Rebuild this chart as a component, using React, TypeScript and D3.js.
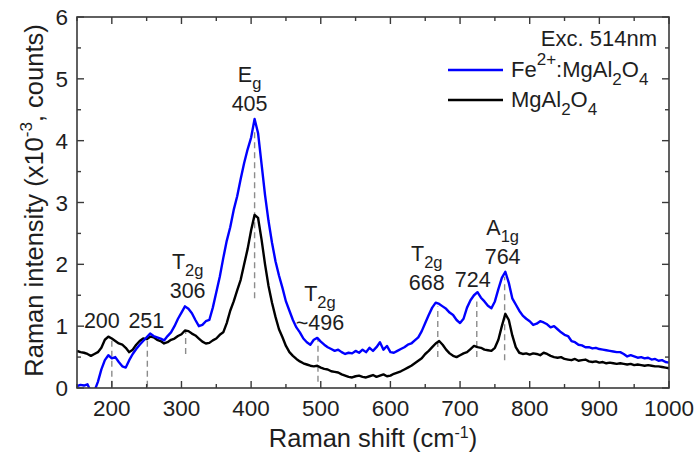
import React from "react";
import * as d3 from "d3";

// Raman shift sampling grid (cm^-1)
const SHIFT = [
  150, 155, 160, 165, 170, 175, 180, 185, 190, 195, 200, 205, 210, 215, 220, 225, 230, 235, 240, 245,
  250, 255, 260, 265, 270, 275, 280, 285, 290, 295, 300, 305, 310, 315, 320, 325, 330, 335, 340, 345,
  350, 355, 360, 365, 370, 375, 380, 385, 390, 395, 400, 405, 410, 415, 420, 425, 430, 435, 440, 445,
  450, 455, 460, 465, 470, 475, 480, 485, 490, 495, 500, 505, 510, 515, 520, 525, 530, 535, 540, 545,
  550, 555, 560, 565, 570, 575, 580, 585, 590, 595, 600, 605, 610, 615, 620, 625, 630, 635, 640, 645,
  650, 655, 660, 665, 670, 675, 680, 685, 690, 695, 700, 705, 710, 715, 720, 725, 730, 735, 740, 745,
  750, 755, 760, 765, 770, 775, 780, 785, 790, 795, 800, 805, 810, 815, 820, 825, 830, 835, 840, 845,
  850, 855, 860, 865, 870, 875, 880, 885, 890, 895, 900, 905, 910, 915, 920, 925, 930, 935, 940, 945,
  950, 955, 960, 965, 970, 975, 980, 985, 990, 995, 1000,
];

// Fe2+:MgAl2O4 intensity (x10^3 counts)
const FE_SPINEL = [
  0.03, 0.05, 0.04, 0.06, -0.06, -0.05, 0.10, 0.30, 0.45, 0.53, 0.48, 0.50, 0.42, 0.35, 0.33, 0.45, 0.55, 0.63, 0.70, 0.76,
  0.82, 0.88, 0.84, 0.82, 0.80, 0.77, 0.84, 0.90, 1.00, 1.12, 1.22, 1.32, 1.28, 1.21, 1.10, 1.00, 1.02, 1.08, 1.10, 1.30,
  1.55, 1.80, 2.10, 2.38, 2.60, 2.88, 3.10, 3.38, 3.64, 3.86, 4.05, 4.35, 4.12, 3.62, 3.12, 2.70, 2.35, 2.05, 1.82, 1.62,
  1.40, 1.25, 1.10, 0.98, 0.90, 0.80, 0.74, 0.70, 0.78, 0.81, 0.75, 0.70, 0.66, 0.63, 0.60, 0.62, 0.58, 0.55, 0.57, 0.56,
  0.60, 0.57, 0.62, 0.58, 0.65, 0.60, 0.66, 0.74, 0.62, 0.68, 0.58, 0.57, 0.60, 0.63, 0.66, 0.70, 0.72, 0.77, 0.82, 0.92,
  1.05, 1.18, 1.30, 1.38, 1.36, 1.32, 1.28, 1.22, 1.18, 1.10, 1.05, 1.12, 1.30, 1.42, 1.50, 1.55, 1.46, 1.40, 1.33, 1.29,
  1.40, 1.60, 1.78, 1.88, 1.70, 1.45, 1.35, 1.25, 1.17, 1.12, 1.08, 1.02, 1.04, 1.08, 1.06, 1.03, 0.98, 1.00, 0.95, 0.90,
  0.86, 0.84, 0.76, 0.74, 0.70, 0.69, 0.66, 0.66, 0.64, 0.65, 0.63, 0.62, 0.61, 0.60, 0.59, 0.58, 0.58, 0.55, 0.51, 0.53,
  0.51, 0.49, 0.50, 0.48, 0.49, 0.46, 0.47, 0.44, 0.45, 0.42, 0.41,
];

// MgAl2O4 intensity (x10^3 counts)
const SPINEL = [
  0.60, 0.58, 0.57, 0.55, 0.52, 0.55, 0.58, 0.65, 0.78, 0.83, 0.80, 0.76, 0.72, 0.70, 0.65, 0.58, 0.62, 0.70, 0.76, 0.80,
  0.79, 0.83, 0.82, 0.78, 0.76, 0.72, 0.74, 0.78, 0.80, 0.84, 0.87, 0.93, 0.92, 0.88, 0.85, 0.80, 0.75, 0.72, 0.73, 0.77,
  0.80, 0.86, 0.90, 1.05, 1.25, 1.40, 1.58, 1.75, 2.00, 2.25, 2.55, 2.80, 2.75, 2.40, 2.00, 1.65, 1.38, 1.15, 0.95, 0.82,
  0.68, 0.58, 0.52, 0.47, 0.43, 0.40, 0.38, 0.36, 0.35, 0.36, 0.33, 0.31, 0.30, 0.27, 0.26, 0.25, 0.22, 0.20, 0.18, 0.17,
  0.19, 0.20, 0.18, 0.17, 0.19, 0.21, 0.18, 0.20, 0.22, 0.19, 0.20, 0.23, 0.25, 0.27, 0.30, 0.33, 0.36, 0.40, 0.44, 0.48,
  0.55, 0.60, 0.66, 0.72, 0.76, 0.70, 0.62, 0.56, 0.52, 0.50, 0.53, 0.56, 0.58, 0.63, 0.68, 0.66, 0.65, 0.62, 0.61, 0.60,
  0.65, 0.78, 1.00, 1.20, 1.10, 0.85, 0.66, 0.57, 0.55, 0.56, 0.54, 0.56, 0.55, 0.53, 0.57, 0.55, 0.52, 0.50, 0.49, 0.50,
  0.47, 0.46, 0.45, 0.47, 0.44, 0.45, 0.46, 0.43, 0.42, 0.43, 0.41, 0.42, 0.40, 0.41, 0.40, 0.39, 0.40, 0.39, 0.38, 0.39,
  0.37, 0.38, 0.37, 0.36, 0.37, 0.36, 0.35, 0.35, 0.34, 0.33, 0.32,
];

// Assigned Raman modes
const PEAK_SHIFT = [200, 251, 306, 405, 496, 668, 724, 764];
const PEAK_TEXT = ["200", "251", "306", "405", "~496", "668", "724", "764"];
const PEAK_MODE = ["", "", "T", "E", "T", "T", "", "A"];
const PEAK_MODE_SUB = ["", "", "2g", "g", "2g", "2g", "", "1g"];
const PEAK_DASH_LO = [0.02, 0.02, 0.55, 1.45, 0.1, 0.5, 0.5, 0.45];
const PEAK_DASH_HI = [0.78, 0.83, 0.92, 4.2, 0.8, 1.32, 1.4, 1.8];

const X_TICKS = [200, 300, 400, 500, 600, 700, 800, 900, 1000];
const X_MINOR = [150, 250, 350, 450, 550, 650, 750, 850, 950];
const Y_TICKS = [0, 1, 2, 3, 4, 5, 6];
const Y_MINOR = [0.5, 1.5, 2.5, 3.5, 4.5, 5.5];

const W = 700;
const H = 456;
const M = { left: 77, right: 669, top: 17, bottom: 388 };

// Annotation placement relative to each mode's dashed marker (px)
const LABEL_DX = [-10, -1, 2, -5, 2, -11, -4, -2];
const LABEL_Y = [328, 328, 298, 111, 330, 290, 287, 264];

const FONT = "'Liberation Sans', Arial, Helvetica, sans-serif";
const FRAME = "#3a3a3a";
const TEXT = "#1e1e1e";

export default function App() {
  const x = d3.scaleLinear().domain([150, 1000]).range([M.left, M.right]);
  const y = d3.scaleLinear().domain([0, 6]).range([M.bottom, M.top]);

  const line = d3
    .line<number>()
    .x((_, i) => x(SHIFT[i]))
    .y((d) => y(d));

  const majorLen = 7;
  const minorLen = 4;

  return (
    <svg
      width={W}
      height={H}
      viewBox={`0 0 ${W} ${H}`}
      style={{ position: "absolute", left: 0, top: 0, background: "#fff" }}
      fontFamily={FONT}
    >
      <defs>
        <clipPath id="plot-area">
          <rect x={M.left} y={M.top} width={M.right - M.left} height={M.bottom - M.top} />
        </clipPath>
      </defs>

      {/* dashed mode markers */}
      {PEAK_SHIFT.map((p, i) => (
        <line
          key={`dash-${i}`}
          x1={x(p)}
          x2={x(p)}
          y1={y(PEAK_DASH_LO[i])}
          y2={y(PEAK_DASH_HI[i])}
          stroke="#8c8c8c"
          strokeWidth={1.4}
          strokeDasharray="6,4"
        />
      ))}

      {/* spectra */}
      <g clipPath="url(#plot-area)" fill="none" strokeLinejoin="round">
        <path d={line(SPINEL) ?? ""} stroke="#000" strokeWidth={2.4} />
        <path d={line(FE_SPINEL) ?? ""} stroke="#0000ff" strokeWidth={2.4} />
      </g>

      {/* frame */}
      <rect
        x={M.left}
        y={M.top}
        width={M.right - M.left}
        height={M.bottom - M.top}
        fill="none"
        stroke={FRAME}
        strokeWidth={1.6}
      />

      {/* x ticks, bottom and top, pointing inward */}
      {X_TICKS.map((t) => (
        <g key={`xt-${t}`} stroke={FRAME} strokeWidth={1.4}>
          <line x1={x(t)} x2={x(t)} y1={M.bottom} y2={M.bottom - majorLen} />
          <line x1={x(t)} x2={x(t)} y1={M.top} y2={M.top + majorLen} />
        </g>
      ))}
      {X_MINOR.map((t) => (
        <g key={`xm-${t}`} stroke={FRAME} strokeWidth={1.4}>
          <line x1={x(t)} x2={x(t)} y1={M.bottom} y2={M.bottom - minorLen} />
          <line x1={x(t)} x2={x(t)} y1={M.top} y2={M.top + minorLen} />
        </g>
      ))}
      {Y_TICKS.map((t) => (
        <g key={`yt-${t}`} stroke={FRAME} strokeWidth={1.4}>
          <line x1={M.left} x2={M.left + majorLen} y1={y(t)} y2={y(t)} />
          <line x1={M.right} x2={M.right - majorLen} y1={y(t)} y2={y(t)} />
        </g>
      ))}
      {Y_MINOR.map((t) => (
        <g key={`ym-${t}`} stroke={FRAME} strokeWidth={1.4}>
          <line x1={M.left} x2={M.left + minorLen} y1={y(t)} y2={y(t)} />
          <line x1={M.right} x2={M.right - minorLen} y1={y(t)} y2={y(t)} />
        </g>
      ))}

      {/* tick labels */}
      {X_TICKS.map((t) => (
        <text key={`xl-${t}`} x={x(t)} y={416} textAnchor="middle" fontSize={22.5} fill={TEXT}>
          {t}
        </text>
      ))}
      {Y_TICKS.map((t) => (
        <text key={`yl-${t}`} x={68} y={y(t) + 8} textAnchor="end" fontSize={22.5} fill={TEXT}>
          {t}
        </text>
      ))}

      {/* axis titles */}
      <text x={373} y={447} textAnchor="middle" fontSize={25.5} fill={TEXT}>
        Raman shift (cm
        <tspan fontSize={16} dy={-9}>-1</tspan>
        <tspan dy={9}>)</tspan>
      </text>
      <text
        transform={`translate(43, ${(M.top + M.bottom) / 2 - 2}) rotate(-90)`}
        textAnchor="middle"
        fontSize={25.5}
        fill={TEXT}
      >
        Raman intensity (x10
        <tspan fontSize={17} dy={-11}>-3</tspan>
        <tspan dy={11}>, counts)</tspan>
      </text>

      {/* mode annotations */}
      {PEAK_SHIFT.map((p, i) => {
        const cx = x(p) + LABEL_DX[i];
        const ny = LABEL_Y[i];
        return (
          <g key={`lab-${i}`} fill={TEXT} textAnchor="middle">
            {PEAK_MODE[i] && (
              <text x={cx} y={ny - 29.5} fontSize={21.5}>
                {PEAK_MODE[i]}
                <tspan fontSize={16.5} dy={7}>
                  {PEAK_MODE_SUB[i]}
                </tspan>
              </text>
            )}
            <text x={cx} y={ny} fontSize={21.5}>
              {PEAK_TEXT[i]}
            </text>
          </g>
        );
      })}

      {/* legend */}
      <text x={657} y={46} textAnchor="end" fontSize={22} fill={TEXT}>
        Exc. 514nm
      </text>
      <line x1={448} x2={503} y1={70} y2={70} stroke="#0000ff" strokeWidth={2.4} />
      <text x={511} y={77} fontSize={22} fill={TEXT}>
        Fe
        <tspan fontSize={17} dy={-12}>2+</tspan>
        <tspan dy={12}>:MgAl</tspan>
        <tspan fontSize={17} dy={8}>2</tspan>
        <tspan dy={-8}>O</tspan>
        <tspan fontSize={17} dy={8}>4</tspan>
      </text>
      <line x1={448} x2={503} y1={100} y2={100} stroke="#000" strokeWidth={2.4} />
      <text x={511} y={107} fontSize={22} fill={TEXT}>
        MgAl
        <tspan fontSize={17} dy={8}>2</tspan>
        <tspan dy={-8}>O</tspan>
        <tspan fontSize={17} dy={8}>4</tspan>
      </text>
    </svg>
  );
}
